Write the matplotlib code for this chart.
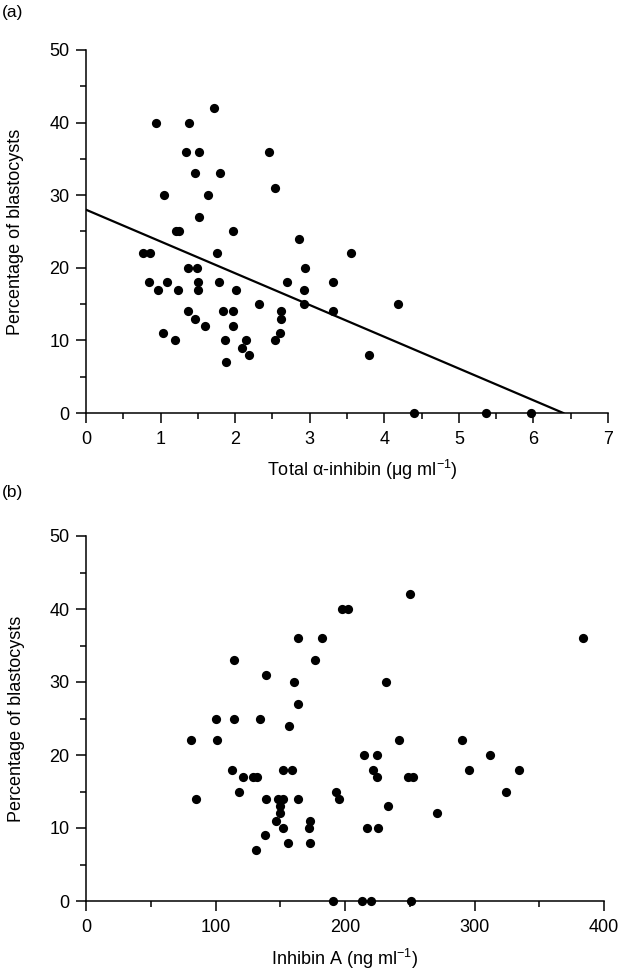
import matplotlib
matplotlib.use("Agg")
import matplotlib.pyplot as plt
from matplotlib.ticker import MultipleLocator

plt.rcParams['font.family'] = ['Liberation Sans', 'DejaVu Sans']
plt.rcParams['mathtext.fontset'] = 'custom'
plt.rcParams['mathtext.rm'] = 'Liberation Sans'
plt.rcParams['mathtext.it'] = 'Liberation Sans'
plt.rcParams['mathtext.default'] = 'regular'

# Panel (a): total alpha-inhibin vs percentage of blastocysts
a_x = [0.94, 1.38, 1.71, 1.34, 1.52, 2.46, 1.46, 1.80, 2.54, 1.04,
       1.63, 1.52, 1.21, 1.25, 1.97, 2.86, 3.55, 0.77, 0.86, 1.75,
       1.37, 1.49, 2.94, 0.85, 1.08, 1.50, 1.78, 2.69, 3.31, 0.97,
       1.24, 1.50, 2.01, 2.92, 2.32, 2.92, 1.37, 1.84, 1.97, 2.61,
       3.31, 1.46, 2.61, 1.60, 1.97, 1.03, 2.60, 1.20, 1.87, 2.15,
       2.54, 2.09, 2.18, 1.88, 4.19, 3.80, 4.40, 5.36, 5.97]
a_y = [40, 40, 42, 36, 36, 36, 33, 33, 31, 30,
       30, 27, 25, 25, 25, 24, 22, 22, 22, 22,
       20, 20, 20, 18, 18, 18, 18, 18, 18, 17,
       17, 17, 17, 17, 15, 15, 14, 14, 14, 14,
       14, 13, 13, 12, 12, 11, 11, 10, 10, 10,
       10, 9, 8, 7, 15, 8, 0, 0, 0]
fit_x = [0, 6.4]
fit_y = [28, 0]

# Panel (b): inhibin A vs percentage of blastocysts
b_x = [198, 202, 164, 182.5, 114, 177, 139, 161, 164, 100,
       114, 134, 157, 81, 101, 113, 152.5, 159, 121, 129,
       132, 118, 85, 139, 148.5, 152.5, 164, 150, 150, 147,
       152, 173, 172.5, 138, 156, 173, 131, 193, 195, 190.5,
       250, 384, 232, 242, 290, 215, 225, 312, 222, 225,
       296, 334, 249, 252.5, 324, 233, 271, 217, 225.5, 213,
       220, 251]
b_y = [40, 40, 36, 36, 33, 33, 31, 30, 27, 25,
       25, 25, 24, 22, 22, 18, 18, 18, 17, 17,
       17, 15, 14, 14, 14, 14, 14, 13, 12, 11,
       10, 11, 10, 9, 8, 8, 7, 15, 14, 0,
       42, 36, 30, 22, 22, 20, 20, 20, 18, 17,
       18, 18, 17, 17, 15, 13, 12, 10, 10, 0,
       0, 0]

W, H = 622, 972
fig = plt.figure(figsize=(W / 100, H / 100), dpi=100)

def px_axes(x0, x1, y_top, y_bot):
    return fig.add_axes([x0 / W, 1 - y_bot / H, (x1 - x0) / W, (y_bot - y_top) / H])

ax1 = px_axes(86, 608, 50, 413)
ax2 = px_axes(86, 604, 536, 901)

def style(ax, xmax, xmaj, xmin):
    ax.set_ylim(0, 50)
    ax.set_xlim(0, xmax)
    for s in ['top', 'right']:
        ax.spines[s].set_visible(False)
    for s in ['left', 'bottom']:
        ax.spines[s].set_linewidth(1.1)
    ax.xaxis.set_major_locator(MultipleLocator(xmaj))
    ax.xaxis.set_minor_locator(MultipleLocator(xmin))
    ax.yaxis.set_major_locator(MultipleLocator(10))
    ax.yaxis.set_minor_locator(MultipleLocator(5))
    ax.tick_params(which='major', direction='out', length=7, width=1.1,
                   labelsize=13, colors='black')
    ax.tick_params(which='minor', direction='out', length=4.5, width=1.1)
    ax.tick_params(axis='x', which='major', pad=6)
    ax.tick_params(axis='y', which='major', pad=5)
    ax.set_ylabel('Percentage of blastocysts', fontsize=13)
    ax.yaxis.set_label_coords(-0.118, 0.5)

style(ax1, 7, 1, 0.5)
ax1.scatter(a_x, a_y, s=44, color='black', zorder=3, clip_on=False, linewidths=0)
ax1.plot(fit_x, fit_y, color='black', lw=1.6, zorder=2)
ax1.set_xlabel('Total \u03b1-inhibin (\u03bcg ml$^{-1}$)', fontsize=13)
ax1.xaxis.set_label_coords(0.53, -0.125)

style(ax2, 400, 100, 50)
ax2.scatter(b_x, b_y, s=44, color='black', zorder=3, clip_on=False, linewidths=0)
ax2.set_xlabel('Inhibin A (ng ml$^{-1}$)', fontsize=13)
ax2.xaxis.set_label_coords(0.5, -0.125)

fig.text(2 / W, 1 - 12 / H, '(a)', fontsize=12.5, va='center', ha='left')
fig.text(2 / W, 1 - 492 / H, '(b)', fontsize=12.5, va='center', ha='left')

fig.savefig('out.png', dpi=100)
